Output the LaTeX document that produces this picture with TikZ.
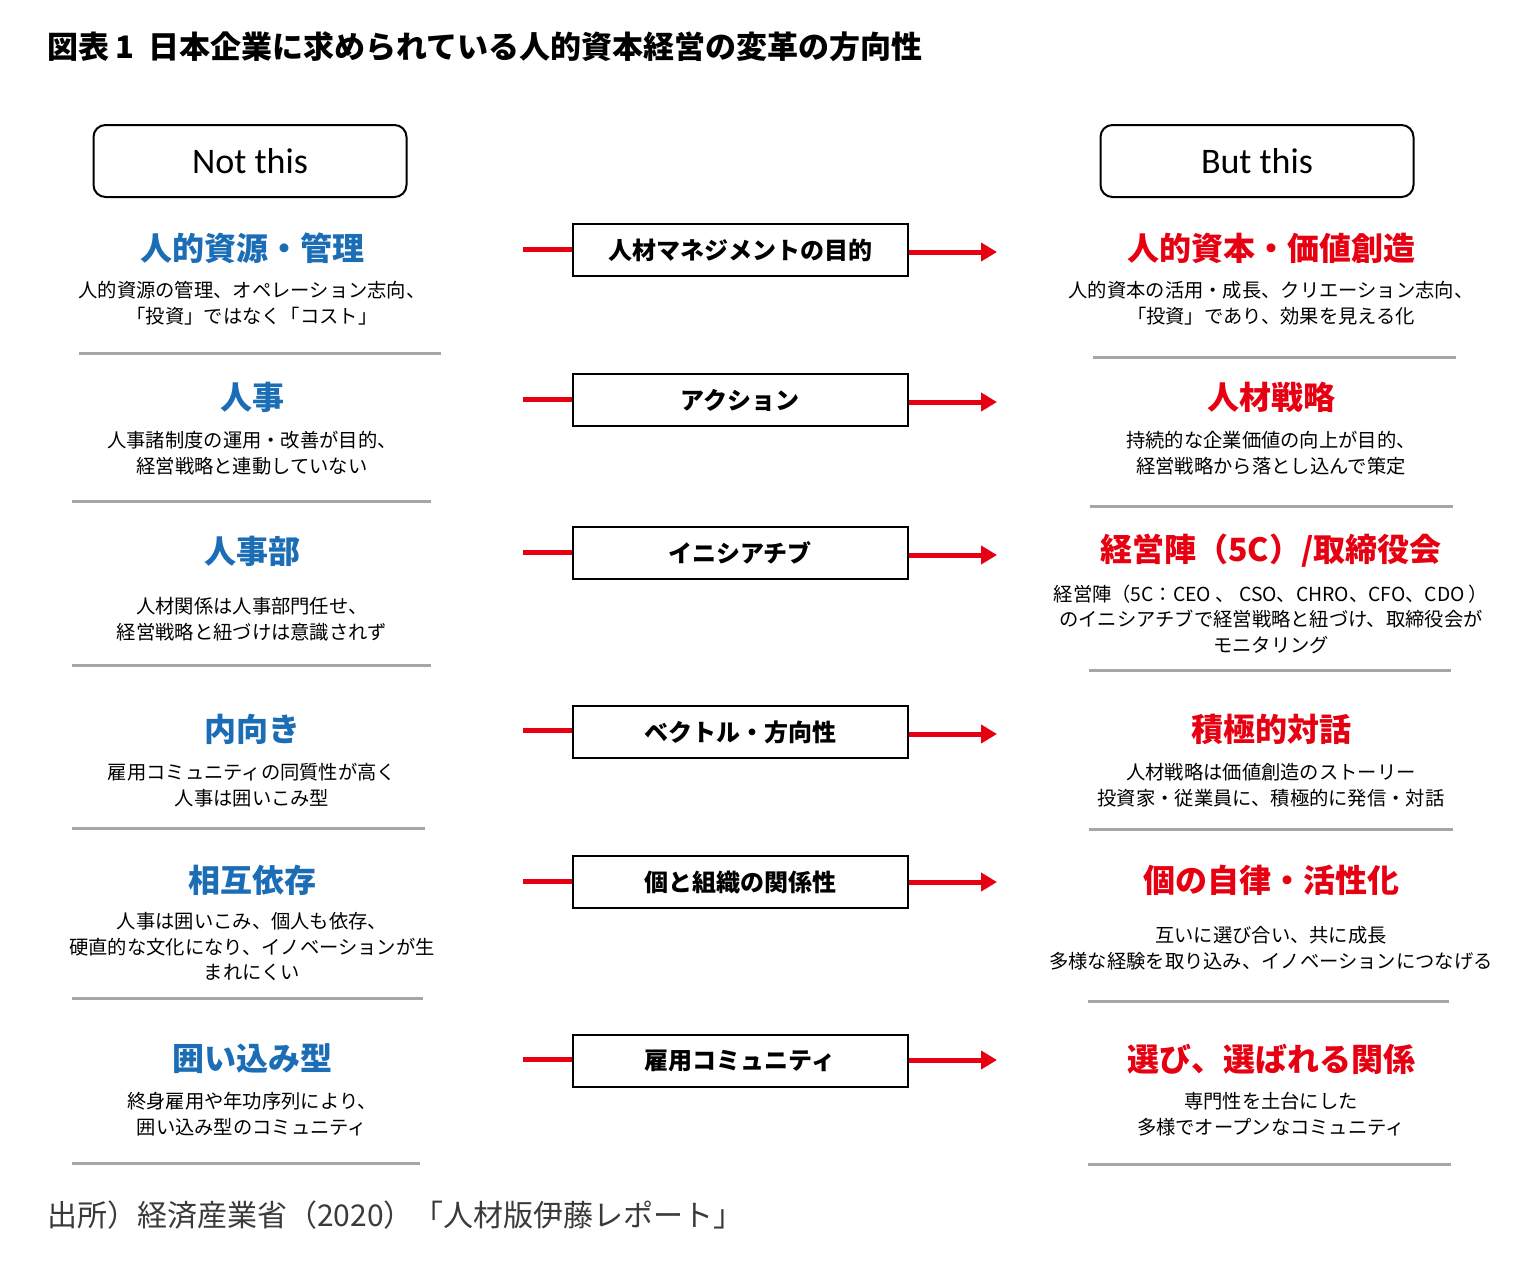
\documentclass[tikz,border=0pt]{standalone}
\usepackage{fontspec}
\setmainfont{Noto Sans CJK JP}
\newfontfamily\latfont{Carlito}
\usetikzlibrary{positioning, arrows.meta}
\definecolor{oldBlue}{HTML}{1B6DB6}
\definecolor{newRed}{HTML}{E60012}
\definecolor{ruleGray}{HTML}{A6A6A6}
\definecolor{noteGray}{HTML}{3A3A3A}

\begin{document}
\begin{tikzpicture}[x=1pt, y=-1pt,
        every node/.style={inner sep=0pt},
        capBox/.style={rectangle, rounded corners=12pt, draw=black, line width=2pt,
                       minimum width=313pt, minimum height=72pt,
                       font=\latfont\fontsize{36}{40}\selectfont},
        midBox/.style={rectangle, draw=black, line width=2pt,
                       minimum width=335pt, minimum height=52pt,
                       font=\bfseries\fontsize{24}{28}\selectfont},
        oldHead/.style={font=\bfseries\fontsize{32}{36}\selectfont, text=oldBlue},
        newHead/.style={font=\bfseries\fontsize{32}{36}\selectfont, text=newRed},
        descTxt/.style={align=center, font=\fontsize{19.3}{25.5}\selectfont},
        sepLine/.style={draw=ruleGray, line width=3pt},
        redIn/.style={draw=newRed, line width=5pt},
        redOut/.style={draw=newRed, line width=5pt, -{Triangle[length=16pt,width=18pt]}},
      ]
        \useasboundingbox[fill=white] (0,0) rectangle (1532,1270);

        % title and source
        \node[anchor=west, font=\bfseries\fontsize{31}{34}\selectfont] (title) at (47,47)
              {図表\hspace{6pt}1\hspace{14pt}日本企業に求められている人的資本経営の変革の方向性};
        \node[anchor=west, text=noteGray, font=\fontsize{30}{33}\selectfont] (src) at (47,1215)
              {出所）経済産業省（2020）「人材版伊藤レポート」};

        % column captions
        \node[capBox] (notThis) at (250,161) {Not this};
        \node[capBox] (butThis) at (1257,161) {But this};

        % row 1
        \node[oldHead] (o1) at (252,248) {人的資源・管理};
        \node[descTxt] (od1) at (252,303) {人的資源の管理、オペレーション志向、\\「投資」ではなく「コスト」};
        \node[midBox] (m1) at (740,250) {人材マネジメントの目的};
        \node[newHead] (n1) at (1271,248) {人的資本・価値創造};
        \node[descTxt] (nd1) at (1271,303) {人的資本の活用・成長、クリエーション志向、\\「投資」であり、効果を見える化};
        \coordinate (a1) at (523,249);
        \coordinate (b1) at (997,252);
        \draw[redIn] (a1) -- (a1 -| m1.west);
        \draw[redOut] (m1.east |- b1) -- (b1);
        \draw[sepLine] (79,353) -- (441,353);
        \draw[sepLine] (1093,357) -- (1456,357);

        % row 2
        \node[oldHead] (o2) at (252,397) {人事};
        \node[descTxt] (od2) at (252,453) {人事諸制度の運用・改善が目的、\\経営戦略と連動していない};
        \node[midBox] (m2) at (740,400) {アクション};
        \node[newHead] (n2) at (1271,397) {人材戦略};
        \node[descTxt] (nd2) at (1271,453) {持続的な企業価値の向上が目的、\\経営戦略から落とし込んで策定};
        \coordinate (a2) at (523,399);
        \coordinate (b2) at (997,402);
        \draw[redIn] (a2) -- (a2 -| m2.west);
        \draw[redOut] (m2.east |- b2) -- (b2);
        \draw[sepLine] (72,501) -- (431,501);
        \draw[sepLine] (1090,506) -- (1453,506);

        % row 3
        \node[oldHead] (o3) at (252,551) {人事部};
        \node[descTxt] (od3) at (252,619) {人材関係は人事部門任せ、\\経営戦略と紐づけは意識されず};
        \node[midBox] (m3) at (740,553) {イニシアチブ};
        \node[newHead] (n3) at (1271,551) {経営陣（5C）/取締役会};
        \node[descTxt] (nd3) at (1271,619) {経営陣（5C：CEO 、 CSO、CHRO、CFO、CDO ）\\のイニシアチブで経営戦略と紐づけ、取締役会が\\モニタリング};
        \coordinate (a3) at (523,552);
        \coordinate (b3) at (997,555);
        \draw[redIn] (a3) -- (a3 -| m3.west);
        \draw[redOut] (m3.east |- b3) -- (b3);
        \draw[sepLine] (72,665) -- (431,665);
        \draw[sepLine] (1089,670) -- (1451,670);

        % row 4
        \node[oldHead] (o4) at (252,729) {内向き};
        \node[descTxt] (od4) at (252,785) {雇用コミュニティの同質性が高く\\人事は囲いこみ型};
        \node[midBox] (m4) at (740,732) {ベクトル・方向性};
        \node[newHead] (n4) at (1271,729) {積極的対話};
        \node[descTxt] (nd4) at (1271,785) {人材戦略は価値創造のストーリー\\投資家・従業員に、積極的に発信・対話};
        \coordinate (a4) at (523,730);
        \coordinate (b4) at (997,734);
        \draw[redIn] (a4) -- (a4 -| m4.west);
        \draw[redOut] (m4.east |- b4) -- (b4);
        \draw[sepLine] (72,828) -- (425,828);
        \draw[sepLine] (1089,829) -- (1453,829);

        % row 5
        \node[oldHead] (o5) at (252,880) {相互依存};
        \node[descTxt] (od5) at (252,947) {人事は囲いこみ、個人も依存、\\硬直的な文化になり、イノベーションが生\\まれにくい};
        \node[midBox] (m5) at (740,882) {個と組織の関係性};
        \node[newHead] (n5) at (1271,880) {個の自律・活性化};
        \node[descTxt] (nd5) at (1271,948) {互いに選び合い、共に成長\\多様な経験を取り込み、イノベーションにつなげる};
        \coordinate (a5) at (523,881);
        \coordinate (b5) at (997,882);
        \draw[redIn] (a5) -- (a5 -| m5.west);
        \draw[redOut] (m5.east |- b5) -- (b5);
        \draw[sepLine] (72,998) -- (423,998);
        \draw[sepLine] (1088,1001) -- (1449,1001);

        % row 6
        \node[oldHead] (o6) at (252,1059) {囲い込み型};
        \node[descTxt] (od6) at (252,1114) {終身雇用や年功序列により、\\囲い込み型のコミュニティ};
        \node[midBox] (m6) at (740,1061) {雇用コミュニティ};
        \node[newHead] (n6) at (1271,1059) {選び、選ばれる関係};
        \node[descTxt] (nd6) at (1271,1114) {専門性を土台にした\\多様でオープンなコミュニティ};
        \coordinate (a6) at (523,1059);
        \coordinate (b6) at (997,1060);
        \draw[redIn] (a6) -- (a6 -| m6.west);
        \draw[redOut] (m6.east |- b6) -- (b6);
        \draw[sepLine] (72,1163) -- (420,1163);
        \draw[sepLine] (1088,1164) -- (1451,1164);
      \end{tikzpicture}
\end{document}
